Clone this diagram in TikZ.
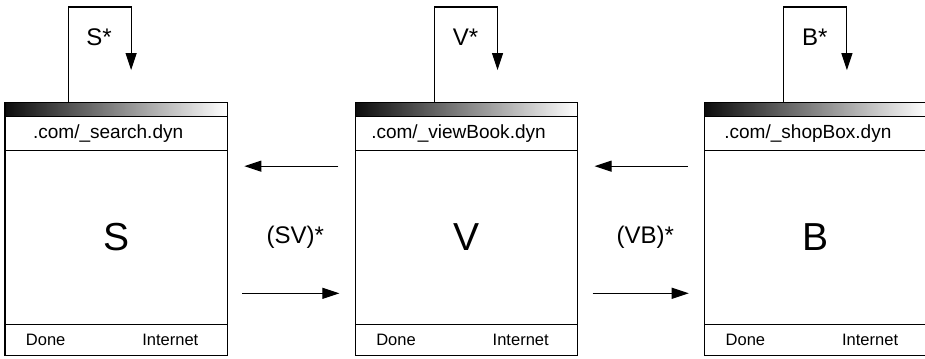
\documentclass[tikz,border=0pt]{standalone}
\usepackage{fontspec}
\setmainfont{Liberation Sans}
\usetikzlibrary{arrows.meta,positioning,calc}

\begin{document}
\begin{tikzpicture}[
x=1pt, y=-1pt, line width=1.1pt,
    W/.style = {rectangle, draw, minimum width=222pt, minimum height=253pt,
                inner sep=0pt, outer sep=0pt},% browser window
  Bar/.style = {W, minimum height=14pt, left color=black!95, right color=white},
  Row/.style = {W, minimum height=34pt},
 Stat/.style = {W, minimum height=31pt},
  Lbl/.style = {font=\fontsize{24}{26}\selectfont},
 flow/.style = {-{Triangle[length=17pt,width=11pt]}},
                        ]
\useasboundingbox (0,0) rectangle (924,358);
\foreach \n/\x/\u/\l in {S/5/search/63, V/355/viewBook/79, B/704/shopBox/79}{
    \node[W, anchor=north west] (\n) at (\x,102) {};
    \node[Bar, below=0pt of \n.north] (\n-bar) {};
    \node[Row, below=0pt of \n-bar] (\n-url) {};
    \node[Stat, above=0pt of \n.south] (\n-st) {};
    \node[font=\fontsize{19}{21}\selectfont] (\n-adr) at ([xshift=-8pt]\n-url.center) {.com/\_\u.dyn};
    \node[font=\fontsize{39}{40}\selectfont] (\n-big) at ([yshift=-8pt]\n.center) {\n};
    \node[font=\fontsize{16.5}{18}\selectfont, anchor=west] (\n-done) at ([xshift=17pt]\n-st.west) {Done};
    \node[font=\fontsize{16.5}{18}\selectfont, anchor=east] (\n-net) at ([xshift=-25pt]\n-st.east) {Internet};
    % self loop
    \coordinate (\n-in) at ([xshift=\l pt+63pt, yshift=32pt]\n.north west);
    \draw[flow] ([xshift=\l pt]\n.north west) |- ++(63,-95) -- (\n-in);
    \node[Lbl] (\n-lbl) at (\x+\l+31,37) {\n*};
}
\foreach \a/\b in {S/V, V/B}{
    \draw[flow] ([xshift=-17pt,yshift=62.5pt]\b.west) -- ([xshift=17pt,yshift=62.5pt]\a.east);
    \draw[flow] ([xshift=15pt,yshift=-64.5pt]\a.east) -- ([xshift=-16pt,yshift=-64.5pt]\b.west);
    \node[Lbl] (\a\b) at ([xshift=4pt,yshift=-8.5pt]$(\a.east)!.5!(\b.west)$) {(\a\b)*};
}
\end{tikzpicture}
\end{document}
